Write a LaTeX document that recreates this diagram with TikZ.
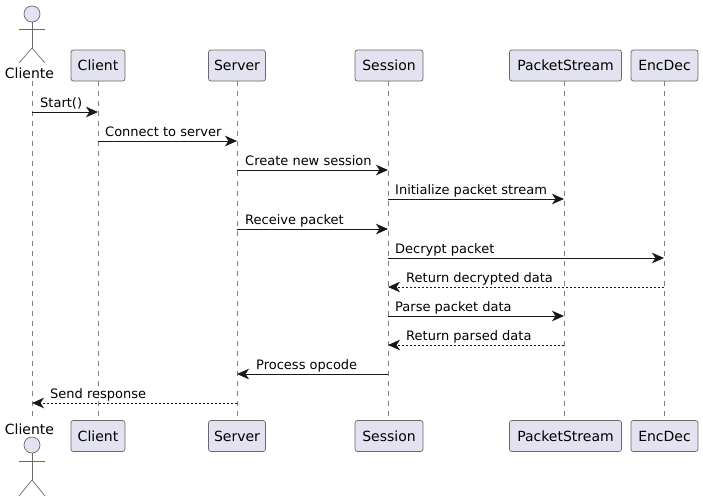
\documentclass[tikz,border=0pt]{standalone}
\usepackage{fontspec}
\setmainfont{DejaVu Sans}
\usetikzlibrary{arrows.meta,positioning}
\definecolor{partfill}{HTML}{E2E2F0}
\definecolor{partline}{HTML}{181818}
\tikzset{
  part/.style={draw=partline!65,line width=0.7pt,rounded corners=2.5pt,fill=partfill,minimum height=31pt,inner sep=0pt,font=\fontsize{14}{16}\selectfont},
  actorlabel/.style={inner sep=0pt,font=\fontsize{14}{16}\selectfont},
  actorhead/.style={circle,draw=partline!65,line width=0.7pt,fill=partfill,minimum size=16pt,inner sep=0pt},
  lifeline/.style={draw=partline!55,line width=0.7pt,dash pattern=on 5pt off 5pt},
  actorline/.style={draw=partline!65,line width=0.7pt},
  msg/.style={draw=partline,line width=1pt,-{Stealth[length=12pt,width=10.5pt,inset=3.5pt]}},
  reply/.style={msg,dash pattern=on 2pt off 2pt},
  msglabel/.style={anchor=base west,inner sep=0pt,yshift=4.5pt,font=\fontsize{13}{15}\selectfont}
}
\begin{document}
\begin{tikzpicture}[x=1pt,y=-1pt]
\useasboundingbox (0,0) rectangle (703,501);
% participants
\node[part,minimum width=54pt] (client_top) at (98,65.5) {Client};
\node[part,minimum width=54pt] (client_bot) at (98,436) {Client};
\node[part,minimum width=57pt] (server_top) at (237,65.5) {Server};
\node[part,minimum width=57pt] (server_bot) at (237,436) {Server};
\node[part,minimum width=68pt] (session_top) at (389,65.5) {Session};
\node[part,minimum width=68pt] (session_bot) at (389,436) {Session};
\node[part,minimum width=112pt] (stream_top) at (565.5,65.5) {PacketStream};
\node[part,minimum width=112pt] (stream_bot) at (565.5,436) {PacketStream};
\node[part,minimum width=67pt] (encdec_top) at (664.5,65.5) {EncDec};
\node[part,minimum width=67pt] (encdec_bot) at (664.5,436) {EncDec};
% actor top
\node[actorlabel] (cliente_name_top) at (29.5,73) {Cliente};
\node[actorhead] (head_top) at (32,14) {};
\coordinate (hip_top) at (32,48);
\coordinate (arml_top) at (19,29);
\coordinate (armr_top) at (45,29);
\coordinate (footl_top) at (19,63);
\coordinate (footr_top) at (45,63);
\draw[actorline] (head_top.south)--(hip_top);
\draw[actorline] (arml_top)--(armr_top);
\draw[actorline] (footl_top)--(hip_top)--(footr_top);
% actor bottom
\node[actorlabel] (cliente_name_bot) at (29.5,429) {Cliente};
\node[actorhead] (head_bot) at (32,445) {};
\coordinate (hip_bot) at (32,480);
\coordinate (arml_bot) at (19,461);
\coordinate (armr_bot) at (45,461);
\coordinate (footl_bot) at (19,496);
\coordinate (footr_bot) at (45,496);
\draw[actorline] (head_bot.south)--(hip_bot);
\draw[actorline] (arml_bot)--(armr_bot);
\draw[actorline] (footl_bot)--(hip_bot)--(footr_bot);
% lifelines
\coordinate (cliente_top) at (32,81);
\coordinate (cliente_bot) at (32,420);
\draw[lifeline] (cliente_top)--(cliente_bot);
\draw[lifeline] (client_top.south)--(client_bot.north);
\draw[lifeline] (server_top.south)--(server_bot.north);
\draw[lifeline] ([xshift=-1pt]session_top.south)--([xshift=-1pt]session_bot.north);
\draw[lifeline] ([xshift=-1.5pt]stream_top.south)--([xshift=-1.5pt]stream_bot.north);
\draw[lifeline] ([xshift=-0.5pt]encdec_top.south)--([xshift=-0.5pt]encdec_bot.north);
% messages
\foreach \r/\yy in {1/112,2/141,3/170,4/199,5/229,6/258,7/287,8/316,9/345,10/374,11/403}{
  \coordinate (cl\r) at (32,\yy);
  \coordinate (ct\r) at (98,\yy);
  \coordinate (sv\r) at (237,\yy);
  \coordinate (se\r) at (388,\yy);
  \coordinate (ps\r) at (564,\yy);
  \coordinate (ed\r) at (664,\yy);
}
\draw[msg] (cl1)--(ct1);
\node[msglabel,xshift=8pt] (msg1) at (cl1) {Start()};
\draw[msg] (ct2)--(sv2);
\node[msglabel,xshift=7pt] (msg2) at (ct2) {Connect to server};
\draw[msg] (sv3)--(se3);
\node[msglabel,xshift=8pt] (msg3) at (sv3) {Create new session};
\draw[msg] (se4)--(ps4);
\node[msglabel,xshift=7pt] (msg4) at (se4) {Initialize packet stream};
\draw[msg] (sv5)--(se5);
\node[msglabel,xshift=8pt] (msg5) at (sv5) {Receive packet};
\draw[msg] (se6)--(ed6);
\node[msglabel,xshift=7pt] (msg6) at (se6) {Decrypt packet};
\draw[reply] (ed7)--(se7);
\node[msglabel,xshift=18pt] (msg7) at (se7) {Return decrypted data};
\draw[msg] (se8)--(ps8);
\node[msglabel,xshift=7pt] (msg8) at (se8) {Parse packet data};
\draw[reply] (ps9)--(se9);
\node[msglabel,xshift=18pt] (msg9) at (se9) {Return parsed data};
\draw[msg] (se10)--(sv10);
\node[msglabel,xshift=19pt] (msg10) at (sv10) {Process opcode};
\draw[reply] (sv11)--(cl11);
\node[msglabel,xshift=18pt] (msg11) at (cl11) {Send response};
\end{tikzpicture}
\end{document}
